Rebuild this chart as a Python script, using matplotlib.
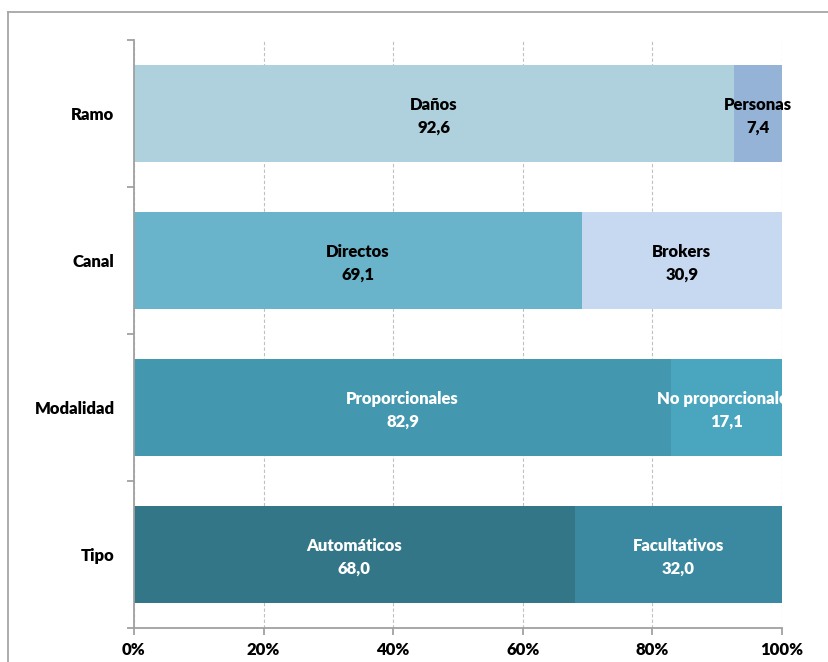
import matplotlib.pyplot as plt
from matplotlib.lines import Line2D

# datos
categorias = ['Ramo', 'Canal', 'Modalidad', 'Tipo']
nombres_1 = ['Daños', 'Directos', 'Proporcionales', 'Automáticos']
valores_1 = [92.6, 69.1, 82.9, 68.0]
nombres_2 = ['Personas', 'Brokers', 'No proporcionales', 'Facultativos']
valores_2 = [7.4, 30.9, 17.1, 32.0]
ticks_x = [0, 20, 40, 60, 80, 100]

colores_1 = ['#aed1dd', '#69b4cb', '#4397af', '#337688']
colores_2 = ['#95b3d7', '#c6d9f1', '#4aa6bf', '#3b89a0']
texto_color = ['black', 'black', 'white', 'white']

plt.rcParams['font.family'] = ['Lato', 'DejaVu Sans']
peso = 'heavy'

fig = plt.figure(figsize=(8.29, 6.62), dpi=100)
ax = fig.add_axes([134 / 829, 1 - 628 / 662, 648 / 829, 588 / 662])

pos = list(range(len(categorias)))
ax.barh(pos, valores_1, height=0.66, color=colores_1, zorder=2)
ax.barh(pos, valores_2, left=valores_1, height=0.66, color=colores_2, zorder=2)

for i in pos:
    for nombre, izq, v in [(nombres_1[i], 0, valores_1[i]),
                           (nombres_2[i], valores_1[i], valores_2[i])]:
        ax.text(izq + v / 2, i + 0.02, nombre + '\n' + ('%.1f' % v).replace('.', ','),
                ha='center', va='center', fontsize=12, fontweight=peso,
                color=texto_color[i], linespacing=1.5, clip_on=(i == 2), zorder=3)

ax.set_xlim(0, 100)
ax.set_ylim(3.5, -0.5)
ax.set_xticks(ticks_x)
ax.set_xticklabels(['%d%%' % t for t in ticks_x], fontsize=12, fontweight=peso)
ax.set_yticks(pos)
ax.set_yticklabels(categorias, fontsize=12, fontweight=peso)
ax.set_yticks([-0.5, 0.5, 1.5, 2.5, 3.5], minor=True)
ax.tick_params(axis='y', which='major', length=0, pad=14)
ax.tick_params(axis='y', which='minor', length=5, color='#999999', width=1.2)
ax.tick_params(axis='x', length=5, color='#999999', width=1.2, pad=5)

ax.xaxis.grid(True, linestyle=(0, (3, 2)), color='#c0c0c0', linewidth=0.8, zorder=0)
ax.set_axisbelow(True)
for s in ['top', 'right']:
    ax.spines[s].set_visible(False)
for s in ['left', 'bottom']:
    ax.spines[s].set_color('#a0a0a0')
    ax.spines[s].set_linewidth(1.3)

# marco del grafico
fig.add_artist(Line2D([8 / 829, 8 / 829], [0, 1 - 12 / 662], color='#a6a6a6', lw=1.3))
fig.add_artist(Line2D([8 / 829, 1], [1 - 12 / 662, 1 - 12 / 662], color='#a6a6a6', lw=1.3))

fig.savefig('out.png', dpi=100)
